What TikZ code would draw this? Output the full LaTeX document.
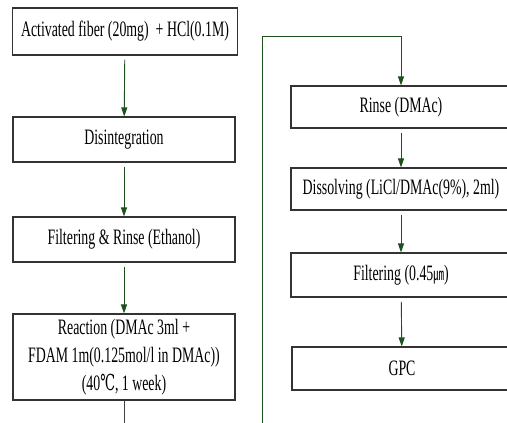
\documentclass[tikz,border=0pt]{standalone}
\usepackage{fontspec}
\setmainfont{Liberation Serif}[FakeStretch=0.63]
\newfontfamily\degfont{DejaVu Serif}[FakeStretch=0.6]
\newfontfamily\cjk{Noto Sans CJK KR}[FakeStretch=0.63]
\usetikzlibrary{positioning}
\usetikzlibrary{arrows.meta}
\definecolor{flowgreen}{RGB}{30,80,30}
\tikzset{stepbox/.style = {draw=black!80, line width=1.1pt,
                           minimum width=222pt, minimum height=45pt,
                           inner sep=0pt, align=center,
                           font=\fontsize{22}{28}\selectfont}}
\tikzset{flow/.style = {draw=flowgreen, line width=0.9pt,
                        -{Triangle[width=6pt,length=9pt]},
                        shorten <=4pt}}

\begin{document}
\begin{tikzpicture}[x=1pt,y=-1pt]
    \useasboundingbox (0,0) rectangle (507,423);
    \clip (0,0) rectangle (507,423);
    % left column
    \node[stepbox, minimum width=225pt, minimum height=47pt] (fiber) at (125,31.5)
        {Activated fiber (20mg)~ + HCl(0.1M)};
    \node[stepbox] (disint) at (124,139.5) {Disintegration};
    \node[stepbox] (rinseeth) at (124,239.5) {Filtering \& Rinse (Ethanol)};
    \node[stepbox, minimum height=86pt] (react) at (124,357)
        {Reaction (DMAc 3ml +\\
         FDAM 1m(0.125mol/l in DMAc))\\
         (40{\degfont ℃}, 1 week)};
    % right column
    \node[stepbox, minimum width=220pt, minimum height=42pt] (rinse) at (401,107) {Rinse (DMAc)};
    \node[stepbox, minimum width=220pt, minimum height=42pt] (dissolve) at (401,189)
        {Dissolving (LiCl/DMAc(9\%), 2ml)};
    \node[stepbox, minimum width=220pt, minimum height=44pt] (filter) at (401,275)
        {Filtering (0.45{\cjk\fontsize{17}{20}\selectfont ㎛})};
    \node[stepbox, minimum width=220pt, minimum height=43pt] (gpc) at (402,368.5) {GPC};
    % arrows
    \draw[flow] (fiber) -- (disint);
    \draw[flow] (disint) -- (rinseeth);
    \draw[flow] (rinseeth) -- (react);
    \draw[flow] (rinse) -- (dissolve);
    \draw[flow] (dissolve) -- (filter);
    \draw[flow] (filter) -- (gpc);
    % carry-over to the second column
    \coordinate (stubend) at (react.south |- 0,440);
    \coordinate (loopbot) at (262,440);
    \coordinate (looptop) at (262,36);
    \draw[draw=black!75, line width=0.9pt] (react.south) -- (stubend);
    \draw[flow, shorten <=0pt] (loopbot) -- (looptop) -| (rinse.north);
\end{tikzpicture}
\end{document}
